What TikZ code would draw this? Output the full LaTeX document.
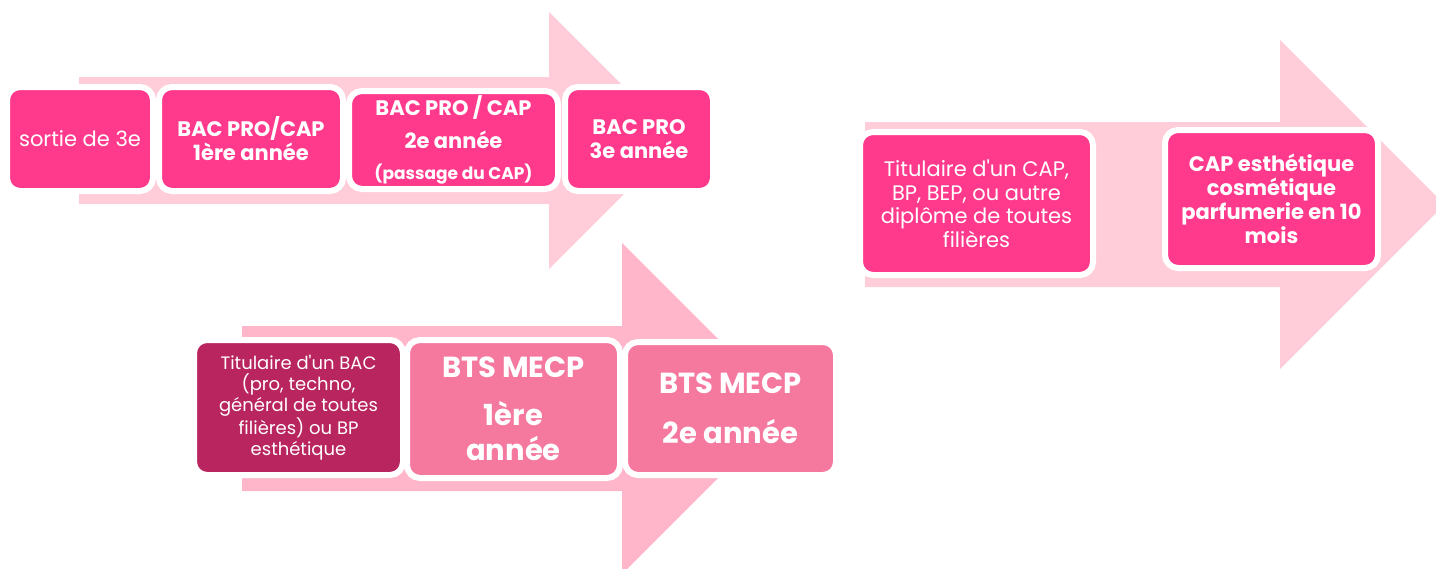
\documentclass[tikz,border=0pt]{standalone}
\usepackage{fontspec}
\setmainfont{Poppins}[Ligatures=TeXOff]
\definecolor{arrowA}{HTML}{FFCDD9}
\definecolor{arrowB}{HTML}{FFB6CA}
\definecolor{hot}{HTML}{FF3A8C}
\definecolor{plum}{HTML}{B9255F}
\definecolor{rose}{HTML}{F5789F}
\begin{document}
\begin{tikzpicture}[x=1pt,y=-1pt,
  box/.style={rounded corners=13pt, draw=white, line width=6pt, text=white, align=center, inner sep=0pt},
  bld/.style={font=\fontsize{21}{24}\selectfont\bfseries},
  big/.style={font=\fontsize{29}{35}\selectfont\bfseries},
]
\useasboundingbox (0,0) rectangle (1436,568);
% big arrows
\fill[arrowA] (79,77) -- (549,77) -- (549,12) -- (677.5,140.5) -- (549,269) -- (549,204) -- (79,204) -- cycle;
\fill[arrowB] (242,326) -- (622,326) -- (622,243) -- (787.5,408.5) -- (622,574) -- (622,491) -- (242,491) -- cycle;
\fill[arrowA] (865,122) -- (1280,122) -- (1280,40) -- (1444.5,204.5) -- (1280,369) -- (1280,287) -- (865,287) -- cycle;
% row 1
\node[box, fill=hot, font=\fontsize{21}{24}\selectfont, minimum width=146pt, minimum height=104pt] (b11) at (80,139) {sortie de 3e};
\node[box, fill=hot, bld, minimum width=184pt, minimum height=104pt] (b12) at (251,139) {BAC PRO/CAP\\1ère année};
\node[box, fill=hot, bld, minimum width=209pt, minimum height=98pt] (b13) at (453.5,140)
  {BAC PRO / CAP\\[9pt]2e année\\[7pt]{\fontsize{17}{20}\selectfont (passage du CAP)}};
\node[box, fill=hot, bld, minimum width=148pt, minimum height=104pt] (b14) at (639,139) {BAC PRO\\3e année};
% row 2
\node[box, fill=plum, font=\fontsize{18}{21}\selectfont, minimum width=209pt, minimum height=135pt] (b21) at (298.5,407.5)
  {Titulaire d'un BAC\\(pro, techno,\\général de toutes\\filières) ou BP\\esthétique};
\node[box, fill=rose, big, minimum width=213pt, minimum height=138pt] (b22) at (513.5,409)
  {BTS MECP\\[13pt]1ère\\année};
\node[box, fill=rose, big, minimum width=211pt, minimum height=133pt] (b23) at (730.5,408.5)
  {BTS MECP\\[15pt]2e année};
% right
\node[box, fill=hot, font=\fontsize{21}{23.5}\selectfont, minimum width=233pt, minimum height=143pt] (b31) at (976.5,203.5)
  {Titulaire d'un CAP,\\BP, BEP, ou autre\\diplôme de toutes\\filières};
\node[box, fill=hot, bld, minimum width=213pt, minimum height=138pt] (b32) at (1271.5,199)
  {CAP esthétique\\cosmétique\\parfumerie en 10\\mois};
\end{tikzpicture}
\end{document}
